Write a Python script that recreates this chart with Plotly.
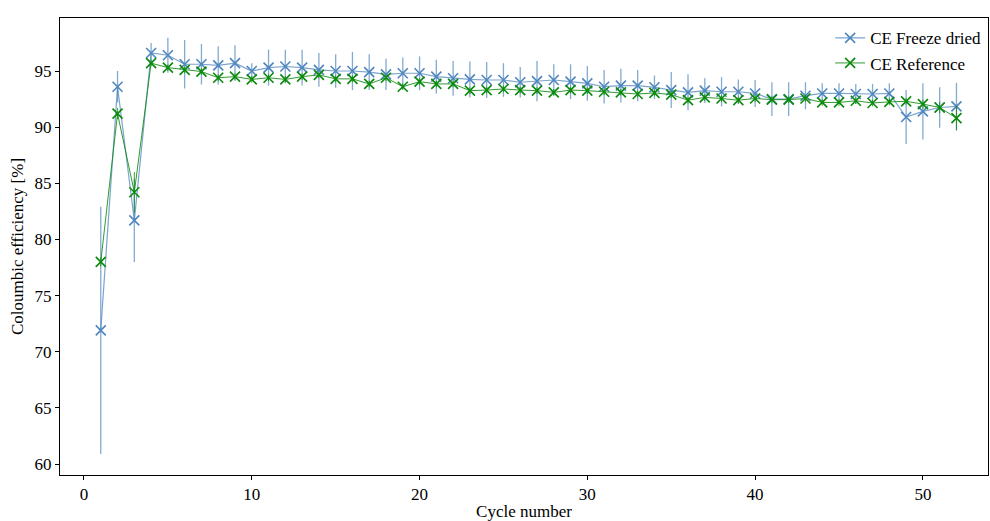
import plotly.graph_objects as go

cycles = list(range(1, 53))

ce_freeze_dried = [71.9, 93.6, 81.7, 96.6, 96.4, 95.6, 95.6, 95.5, 95.7, 95.0,
                   95.3, 95.4, 95.3, 95.1, 95.0, 95.0, 94.9, 94.7, 94.8, 94.8,
                   94.5, 94.35, 94.25, 94.2, 94.2, 94.0, 94.1, 94.2, 94.05, 93.9,
                   93.6, 93.7, 93.7, 93.55, 93.3, 93.1, 93.25, 93.15, 93.15, 93.0,
                   92.5, 92.5, 92.8, 93.0, 93.0, 92.95, 92.95, 93.0, 90.9, 91.4,
                   91.75, 91.85]
ce_freeze_dried_err = [11.0, 1.4, 3.7, 0.9, 1.55, 2.15, 1.8, 1.7, 1.6, 0.7,
                       1.6, 1.5, 1.6, 1.5, 1.5, 1.7, 1.6, 1.4, 1.4, 1.5,
                       1.5, 1.55, 1.6, 1.6, 1.5, 1.35, 1.8, 1.4, 1.55, 1.55,
                       1.5, 1.5, 1.4, 1.05, 1.6, 1.6, 1.1, 1.3, 1.1, 1.2,
                       1.5, 1.5, 1.2, 0.9, 0.9, 0.9, 0.9, 0.9, 2.4, 2.5,
                       1.8, 2.1]

ce_reference = [78.0, 91.2, 84.2, 95.7, 95.3, 95.1, 94.95, 94.4, 94.5, 94.25,
                94.4, 94.25, 94.5, 94.65, 94.3, 94.3, 93.85, 94.4, 93.6, 94.05,
                93.85, 93.85, 93.25, 93.3, 93.4, 93.3, 93.25, 93.1, 93.3, 93.25,
                93.15, 93.1, 92.95, 93.05, 92.9, 92.4, 92.65, 92.55, 92.4, 92.55,
                92.45, 92.45, 92.55, 92.2, 92.2, 92.35, 92.15, 92.25, 92.3, 92.05,
                91.75, 90.8]
ce_reference_err = [0.4, 0.5, 1.8, 0.3, 0.3, 0.3, 0.3, 0.3, 0.3, 0.3,
                    0.3, 0.3, 0.3, 0.3, 0.3, 0.3, 0.3, 0.3, 0.3, 0.3,
                    0.3, 0.3, 0.3, 0.3, 0.3, 0.3, 0.3, 0.3, 0.3, 0.3,
                    0.3, 0.3, 0.3, 0.3, 0.3, 0.3, 0.3, 0.3, 0.3, 0.3,
                    0.3, 0.3, 0.3, 0.3, 0.3, 0.3, 0.3, 0.3, 0.3, 0.4,
                    0.5, 1.1]

x_ticks = [0, 10, 20, 30, 40, 50]
y_ticks = [60, 65, 70, 75, 80, 85, 90, 95]

BLUE = "#4f86bd"
BLUE_LINE = "rgba(79,134,189,0.75)"
GREEN = "#0a8a0a"
FONT = "Liberation Serif"
FS = 17

fig = go.Figure()
fig.add_trace(go.Scatter(
    x=cycles, y=ce_freeze_dried, name="CE Freeze dried", mode="lines+markers",
    line=dict(color=BLUE_LINE, width=1.2),
    marker=dict(symbol="x-thin-open", size=10, color=BLUE, line=dict(color=BLUE, width=1.6)),
    error_y=dict(type="data", array=ce_freeze_dried_err, visible=True,
                 color="rgba(79,134,189,0.7)", thickness=1.3, width=0),
))
fig.add_trace(go.Scatter(
    x=cycles, y=ce_reference, name="CE Reference", mode="lines+markers",
    line=dict(color="rgba(10,138,10,0.85)", width=1.0),
    marker=dict(symbol="x-thin-open", size=10, color=GREEN, line=dict(color=GREEN, width=1.6)),
    error_y=dict(type="data", array=ce_reference_err, visible=True,
                 color="rgba(10,138,10,0.8)", thickness=1.0, width=0),
))

fig.update_layout(
    width=990, height=521,
    margin=dict(l=60, r=2, t=18, b=46),
    paper_bgcolor="white", plot_bgcolor="white",
    font=dict(family=FONT, size=FS, color="black"),
    showlegend=True,
    legend=dict(x=0.998, y=0.995, xanchor="right", yanchor="top",
                bgcolor="rgba(255,255,255,0)", font=dict(family=FONT, size=FS),
                tracegroupgap=0, itemwidth=30),
)
fig.update_xaxes(
    range=[-1.43, 53.88], tickvals=x_ticks, ticktext=[str(v) for v in x_ticks],
    showline=True, linecolor="black", linewidth=1, mirror=True,
    ticks="outside", ticklen=4, tickcolor="black", showgrid=False, zeroline=False,
    tickfont=dict(family=FONT, size=FS),
    title=dict(text="Cycle number", font=dict(family=FONT, size=FS), standoff=4),
)
fig.update_yaxes(
    range=[59.02, 99.72], tickvals=y_ticks, ticktext=[str(v) for v in y_ticks],
    showline=True, linecolor="black", linewidth=1, mirror=True,
    ticks="outside", ticklen=4, tickcolor="black", showgrid=False, zeroline=False,
    tickfont=dict(family=FONT, size=FS),
    title=dict(text="Coloumbic efficiency [%]", font=dict(family=FONT, size=FS), standoff=6),
)

fig.write_html("out.html")
